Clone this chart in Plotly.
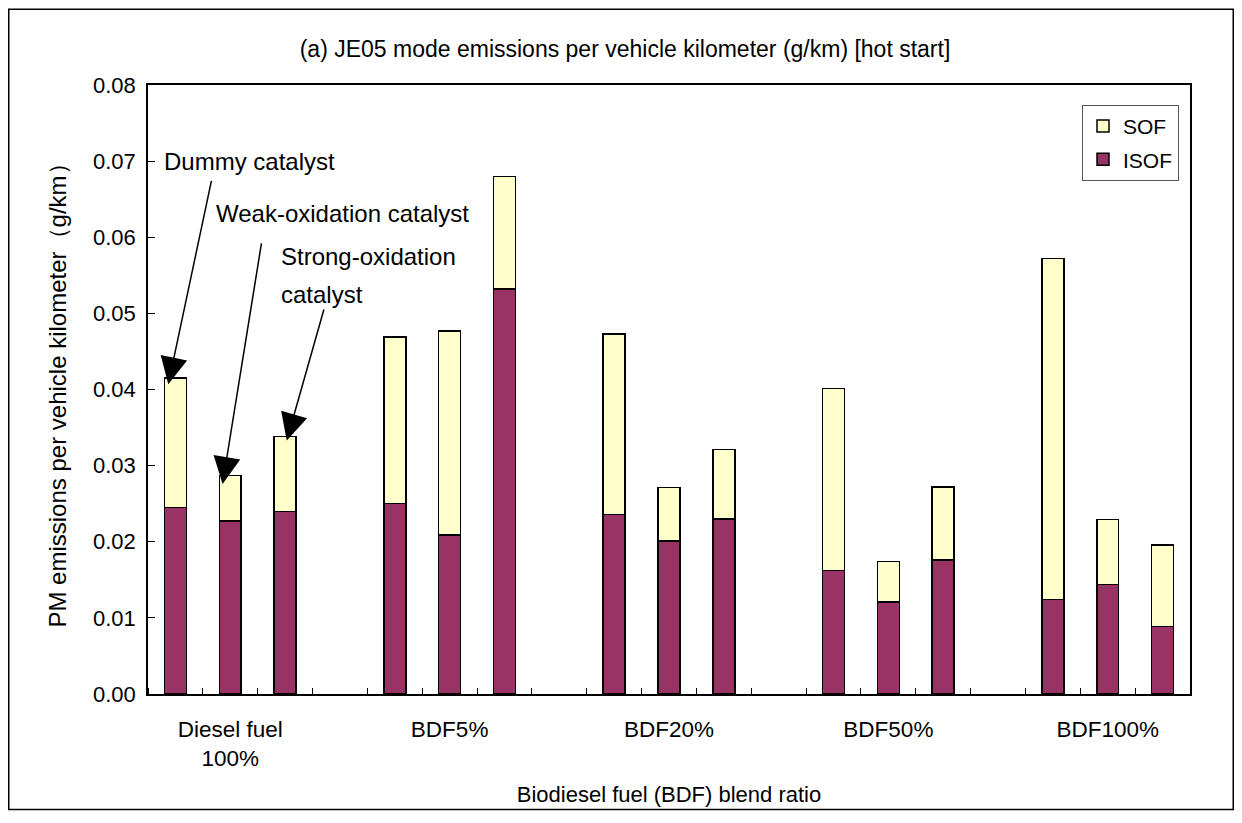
import plotly.graph_objects as go

# ---- data ----
groups = ["Diesel fuel<br>100%", "BDF5%", "BDF20%", "BDF50%", "BDF100%"]
catalysts = ["Dummy catalyst", "Weak-oxidation catalyst", "Strong-oxidation catalyst"]

isof_diesel = [0.0245, 0.0227, 0.0240]
isof_bdf5 = [0.0250, 0.0209, 0.0532]
isof_bdf20 = [0.0236, 0.0201, 0.0230]
isof_bdf50 = [0.0162, 0.0121, 0.0176]
isof_bdf100 = [0.0124, 0.0144, 0.0089]

sof_diesel = [0.0170, 0.0060, 0.0098]
sof_bdf5 = [0.0219, 0.0268, 0.0148]
sof_bdf20 = [0.0237, 0.0070, 0.0091]
sof_bdf50 = [0.0239, 0.0053, 0.0096]
sof_bdf100 = [0.0448, 0.0085, 0.0107]

y_ticks = [0.00, 0.01, 0.02, 0.03, 0.04, 0.05, 0.06, 0.07, 0.08]

isof_all = [isof_diesel, isof_bdf5, isof_bdf20, isof_bdf50, isof_bdf100]
sof_all = [sof_diesel, sof_bdf5, sof_bdf20, sof_bdf50, sof_bdf100]

# slot positions: 3 bars per group + 1 empty slot between groups
n_slot = len(catalysts) + 1
xs, isof_vals, sof_vals = [], [], []
for g in range(len(groups)):
    for j in range(len(catalysts)):
        xs.append(g * n_slot + j)
        isof_vals.append(isof_all[g][j])
        sof_vals.append(sof_all[g][j])
n_total = len(groups) * n_slot - 1
group_centers = [g * n_slot + 1 for g in range(len(groups))]

FONT = "Liberation Sans, Arial, sans-serif"
ISOF_COLOR = "#993366"
SOF_COLOR = "#FFFFCC"

fig = go.Figure()
fig.add_trace(go.Bar(x=xs, y=isof_vals, name="ISOF", width=0.4, legendgroup="isof",
                     legendrank=2,
                     marker=dict(color=ISOF_COLOR, line=dict(color="black", width=1.5))))
fig.add_trace(go.Bar(x=xs, y=sof_vals, name="SOF", width=0.4, legendgroup="sof",
                     legendrank=1,
                     marker=dict(color=SOF_COLOR, line=dict(color="black", width=1.5))))

# annotations: labels and arrows
totals = [i + s for i, s in zip(isof_vals, sof_vals)]
text_annots = [
    ("Dummy catalyst", -0.25, 0.0700),
    ("Weak-oxidation catalyst", 0.70, 0.0631),
    ("Strong-oxidation", 1.88, 0.0575),
    ("catalyst", 1.88, 0.0525),
]
for t, x, y in text_annots:
    fig.add_annotation(x=x, y=y, xref="x", yref="y", text=t, showarrow=False,
                       xanchor="left", yanchor="middle",
                       font=dict(family=FONT, size=24, color="black"))

arrows = [
    # (tip x, tip y, start x, start y)
    (xs[0] - 0.13, totals[0] - 0.0008, 0.662, 0.0676),
    (xs[1] - 0.14, totals[1] - 0.0011, 1.573, 0.0594),
    (xs[2] + 0.03, totals[2] - 0.0005, 2.715, 0.0507),
]
for tx, ty, sx, sy in arrows:
    fig.add_annotation(x=tx, y=ty, xref="x", yref="y", ax=sx, ay=sy,
                       axref="x", ayref="y", text="", showarrow=True,
                       arrowhead=2, arrowsize=3.6, arrowwidth=1.5, arrowcolor="black",
                       standoff=0)

# figure geometry (page adds an 8px body margin)
W, H = 1226, 807
ml, mr, mt, mb = 140, 44, 77, 117
pw, ph = W - ml - mr, H - mt - mb


def px_x(p):
    return (p - ml) / pw


def px_y(p):
    return (H - mb - p) / ph


# outer frame
fig.add_shape(type="rect", xref="paper", yref="paper",
              x0=px_x(0.75), x1=px_x(W - 0.75), y0=px_y(H - 0.75), y1=px_y(0.75),
              line=dict(color="black", width=1.5), fillcolor="rgba(0,0,0,0)", layer="below")

fig.update_layout(
    width=W, height=H,
    barmode="stack",
    plot_bgcolor="white", paper_bgcolor="white",
    margin=dict(l=ml, r=mr, t=mt, b=mb),
    font=dict(family=FONT, size=22, color="black"),
    title=dict(text="(a) JE05 mode emissions per vehicle kilometer (g/km) [hot start]",
               x=617 / W, xanchor="center", y=1 - 41 / H, yanchor="middle",
               font=dict(family=FONT, size=23, color="black")),
    showlegend=True,
    legend=dict(x=px_x(1074), y=px_y(97), xanchor="left", yanchor="top",
                traceorder="grouped", bordercolor="#555555", borderwidth=1,
                bgcolor="white", font=dict(family=FONT, size=21),
                itemwidth=30, tracegroupgap=3),
    xaxis=dict(range=[-0.5, n_total - 0.5], tickmode="array", tickvals=group_centers,
               ticktext=groups, ticks="", showline=True, linecolor="black", linewidth=1.5,
               mirror=True, showgrid=False, zeroline=False, ticklabelstandoff=14,
               tickfont=dict(family=FONT, size=22.5),
               minor=dict(ticks="inside", tick0=-0.5, dtick=1, ticklen=6,
                          tickcolor="black", tickwidth=1, showgrid=False),
               title=dict(text="Biodiesel fuel (BDF) blend ratio", standoff=17,
                          font=dict(family=FONT, size=22))),
    yaxis=dict(range=[0, 0.08], tickmode="array", tickvals=y_ticks,
               tickformat=".2f", ticks="inside", ticklen=7, tickwidth=1, tickcolor="black",
               showline=True, linecolor="black", linewidth=1.5, mirror=True,
               showgrid=False, zeroline=False, ticklabelstandoff=6,
               tickfont=dict(family=FONT, size=22),
               title=dict(text="PM emissions per vehicle kilometer（g/km）", standoff=20,
                          font=dict(family=FONT, size=24))),
)

fig.write_html("out.html")
